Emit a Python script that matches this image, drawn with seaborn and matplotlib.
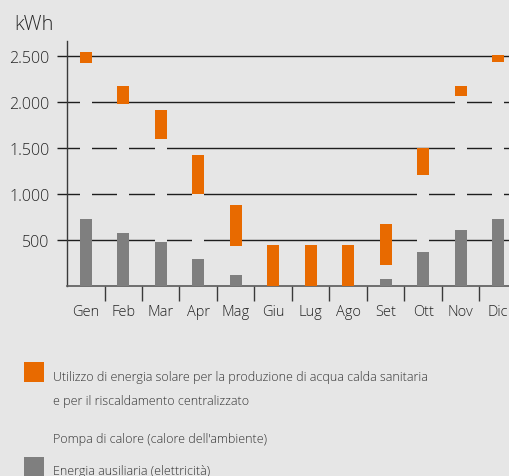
import matplotlib
matplotlib.use("Agg")
import matplotlib.pyplot as plt
from matplotlib.patches import Rectangle
import numpy as np
import pandas as pd
import seaborn as sns

# Monthly energy balance (kWh), stacked from the bottom up
mesi = ["Gen", "Feb", "Mar", "Apr", "Mag", "Giu", "Lug", "Ago", "Set", "Ott", "Nov", "Dic"]
ausiliaria = [730, 580, 480, 295, 120, 0, 0, 0, 75, 370, 610, 730]
pompa_calore = [1690, 1400, 1120, 705, 310, 0, 0, 0, 155, 840, 1450, 1700]
solare = [120, 195, 310, 425, 450, 445, 445, 445, 445, 290, 115, 80]

y_ticks = [500, 1000, 1500, 2000, 2500]
y_labels = ["500", "1.000", "1.500", "2.000", "2.500"]

legend_labels = [
    "Utilizzo di energia solare per la produzione di acqua calda sanitaria\ne per il riscaldamento centralizzato",
    "Pompa di calore (calore dell'ambiente)",
    "Energia ausiliaria (elettricità)",
]

BG = "#e6e6e6"
ORANGE = "#e86a00"
GREY = "#7f7f7f"
TEXT = "#262626"

sns.set_theme(style="white")
plt.rcParams["font.family"] = ["Open Sans", "DejaVu Sans"]
plt.rcParams["font.weight"] = "light"

W, H = 510, 477
fig = plt.figure(figsize=(W / 100, H / 100), dpi=100, facecolor=BG)
ax = fig.add_axes([67 / W, 1 - 287 / H, 450 / W, 245 / H])
ax.set_facecolor(BG)

df = pd.DataFrame({
    "mese": mesi,
    "ausiliaria": ausiliaria,
    "pompa": pompa_calore,
    "solare": solare,
})
base_pompa = df["ausiliaria"].to_numpy()
base_solare = base_pompa + df["pompa"].to_numpy()

bar_w = 0.32
sns.barplot(data=df, x="mese", y="ausiliaria", order=mesi, color=GREY,
            saturation=1, width=bar_w, linewidth=0, ax=ax, zorder=3)
sns.barplot(data=df, x="mese", y="pompa", order=mesi, color=BG,
            saturation=1, width=bar_w, linewidth=0, bottom=base_pompa, ax=ax, zorder=3)
sns.barplot(data=df, x="mese", y="solare", order=mesi, color=ORANGE,
            saturation=1, width=bar_w, linewidth=0, bottom=base_solare, ax=ax, zorder=3)

ax.set_xlim(-0.5, 11.5)
ax.set_ylim(0, 2660)
ax.set_xlabel("")
ax.set_ylabel("")

# horizontal gridlines extending into the tick marks
ax.set_yticks(y_ticks)
ax.set_yticklabels(y_labels)
ax.yaxis.grid(True, color="#1e1e1e", linewidth=1.0, zorder=1)
ax.set_axisbelow(True)
ax.tick_params(axis="y", which="major", direction="out", length=7.2, width=1.0,
               color="#1e1e1e", pad=5.5, labelsize=11.5, labelcolor=TEXT, left=True)

# month labels centred, separators between months
ax.set_xticks(range(12))
ax.set_xticklabels(mesi)
ax.set_xticks(np.arange(0.5, 11.5, 1.0), minor=True)
ax.tick_params(axis="x", which="major", length=0, pad=13, labelsize=10.5, labelcolor=TEXT)
ax.tick_params(axis="x", which="minor", direction="out", length=11, width=1.0,
               color="#3a3a3a", bottom=True)

for side in ["top", "right"]:
    ax.spines[side].set_visible(False)
ax.spines["left"].set_color("#3a3a3a")
ax.spines["left"].set_linewidth(1.0)
ax.spines["bottom"].set_color("#5a5a5a")
ax.spines["bottom"].set_linewidth(1.2)

fig.text(14 / W, 1 - 25 / H, "kWh", fontsize=14.5, color=TEXT, va="center", ha="left")

# legend drawn in figure pixels
def swatch(y_top, color):
    fig.add_artist(Rectangle((24 / W, 1 - (y_top + 20) / H), 20 / W, 20 / H,
                             transform=fig.transFigure, facecolor=color,
                             edgecolor="none"))

legend_kw = dict(fontsize=9.0, color="#333333", ha="left", va="center")
swatch(363, ORANGE)
first, second = legend_labels[0].split("\n")
fig.text(53 / W, 1 - 378 / H, first, **legend_kw)
fig.text(53 / W, 1 - 402 / H, second, **legend_kw)
swatch(420, BG)
fig.text(53 / W, 1 - 439 / H, legend_labels[1], **legend_kw)
swatch(458, GREY)
fig.text(53 / W, 1 - 472 / H, legend_labels[2], **legend_kw)

fig.savefig("out.png", dpi=100, facecolor=BG)
